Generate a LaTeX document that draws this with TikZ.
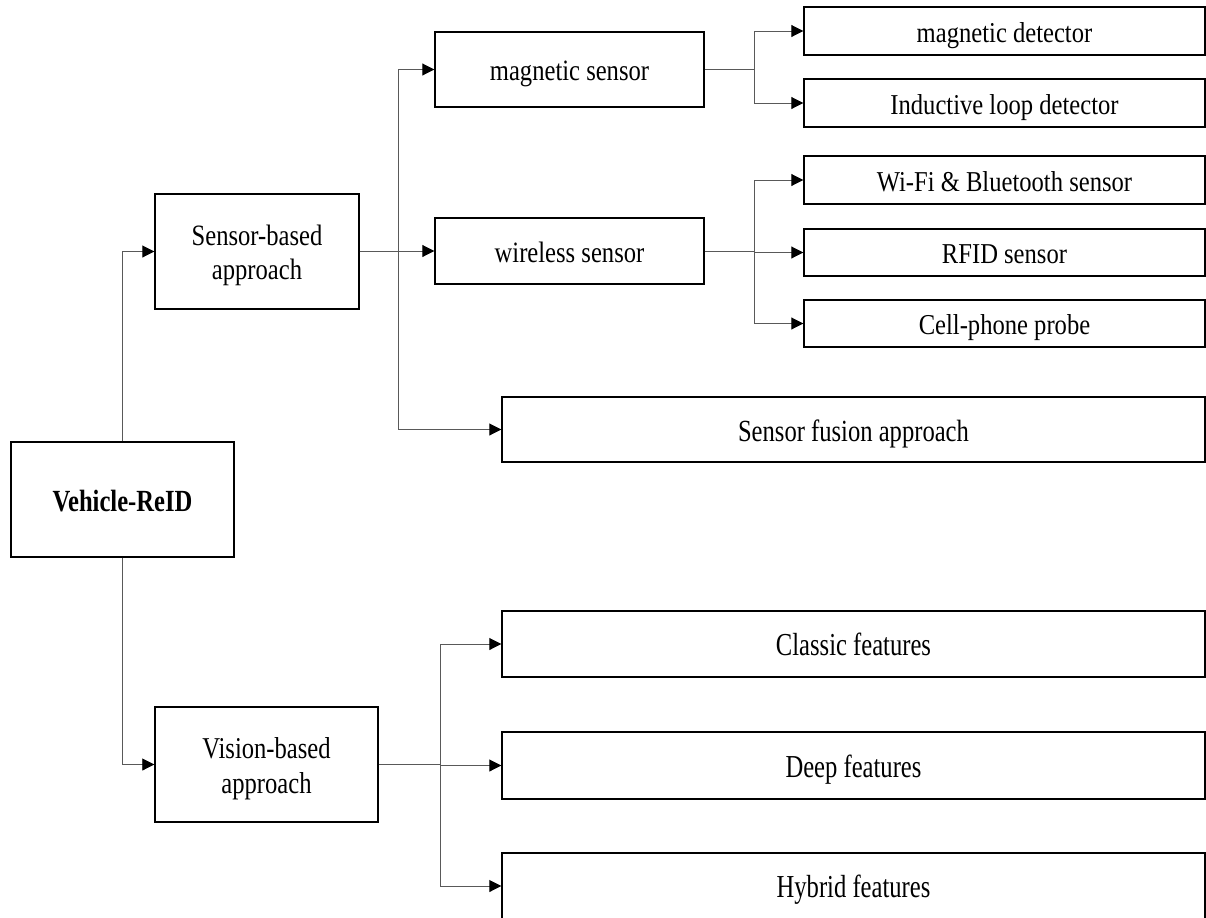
\documentclass[tikz,border=0pt]{standalone}
\usepackage{fontspec}
\usepackage{graphicx}
\setmainfont{Liberation Serif}
\usetikzlibrary{arrows.meta}
% centred label, stretched vertically by #1 and set a little below the box centre
\newcommand{\boxlabel}[2]{\raisebox{0pt}[\dimexpr\height+9bp\relax][\depth]{\scalebox{1}[#1]{\begin{tabular}{@{}c@{}}#2\end{tabular}}}}
\begin{document}
\begin{tikzpicture}[x=1bp,y=-1bp,
  font=\fontsize{24.6bp}{28.5bp}\selectfont,
  box/.style={draw=black,line width=1.4bp,rectangle,inner sep=0pt,align=center},
  conn/.style={draw=black!65,line width=0.9bp},
  arr/.style={conn,-{Triangle[length=12bp,width=12bp,fill=black,color=black]}}]
\useasboundingbox (0,0) rectangle (1206,918);

% tree levels
\node[box,minimum width=223bp,minimum height=115bp] (root) at (122.5,499.5) {\boxlabel{1.25}{\bfseries Vehicle-ReID}};
\node[box,minimum width=204bp,minimum height=115bp] (sensor) at (257,251.5) {\boxlabel{1.2}{Sensor-based\\approach}};
\node[box,minimum width=223bp,minimum height=115bp] (vision) at (266.5,764.5) {\boxlabel{1.23}{Vision-based\\approach}};

\node[box,minimum width=269bp,minimum height=75bp] (mag) at (569.5,69.5) {\boxlabel{1.2}{magnetic sensor}};
\node[box,minimum width=269bp,minimum height=66bp] (wireless) at (569.5,251) {\boxlabel{1.2}{wireless sensor}};
\node[box,minimum width=703bp,minimum height=65bp] (fusion) at (853.5,429.5) {\boxlabel{1.25}{Sensor fusion approach}};

\node[box,minimum width=401bp,minimum height=48bp] (magdet) at (1004.5,31) {\boxlabel{1.17}{magnetic detector}};
\node[box,minimum width=401bp,minimum height=48bp] (loop) at (1004.5,103) {\boxlabel{1.17}{Inductive loop detector}};
\node[box,minimum width=401bp,minimum height=48bp] (wifi) at (1004.5,180) {\boxlabel{1.17}{Wi-Fi \& Bluetooth sensor}};
\node[box,minimum width=401bp,minimum height=47bp] (rfid) at (1004.5,252.5) {\boxlabel{1.17}{RFID sensor}};
\node[box,minimum width=401bp,minimum height=47bp] (cell) at (1004.5,323.5) {\boxlabel{1.17}{Cell-phone probe}};

\node[box,minimum width=703bp,minimum height=66bp] (classic) at (853.5,644) {\boxlabel{1.3}{Classic features}};
\node[box,minimum width=703bp,minimum height=67bp] (deep) at (853.5,765.5) {\boxlabel{1.3}{Deep features}};
\node[box,minimum width=703bp,minimum height=66bp] (hybrid) at (853.5,886) {\boxlabel{1.3}{Hybrid features}};

% junction columns
\coordinate (jS) at (398,0);
\coordinate (jV) at (440,0);
\coordinate (jM) at (754,0);

% connectors
\draw[arr] (root.north) |- (sensor.west);
\draw[arr] (root.south) |- (vision.west);

\draw[conn] (sensor.east) -- (sensor.east -| jS);
\draw[arr] (sensor.east -| jS) |- (mag.west);
\draw[arr] (sensor.east -| jS) |- (wireless.west);
\draw[arr] (sensor.east -| jS) |- (fusion.west);

\draw[conn] (mag.east) -- (mag.east -| jM);
\draw[arr] (mag.east -| jM) |- (magdet.west);
\draw[arr] (mag.east -| jM) |- (loop.west);

\draw[conn] (wireless.east) -- (wireless.east -| jM);
\draw[arr] (wireless.east -| jM) |- (wifi.west);
\draw[arr] (wireless.east -| jM) |- (rfid.west);
\draw[arr] (wireless.east -| jM) |- (cell.west);

\draw[conn] (vision.east) -- (vision.east -| jV);
\draw[arr] (vision.east -| jV) |- (classic.west);
\draw[arr] (vision.east -| jV) |- (deep.west);
\draw[arr] (vision.east -| jV) |- (hybrid.west);
\end{tikzpicture}
\end{document}
